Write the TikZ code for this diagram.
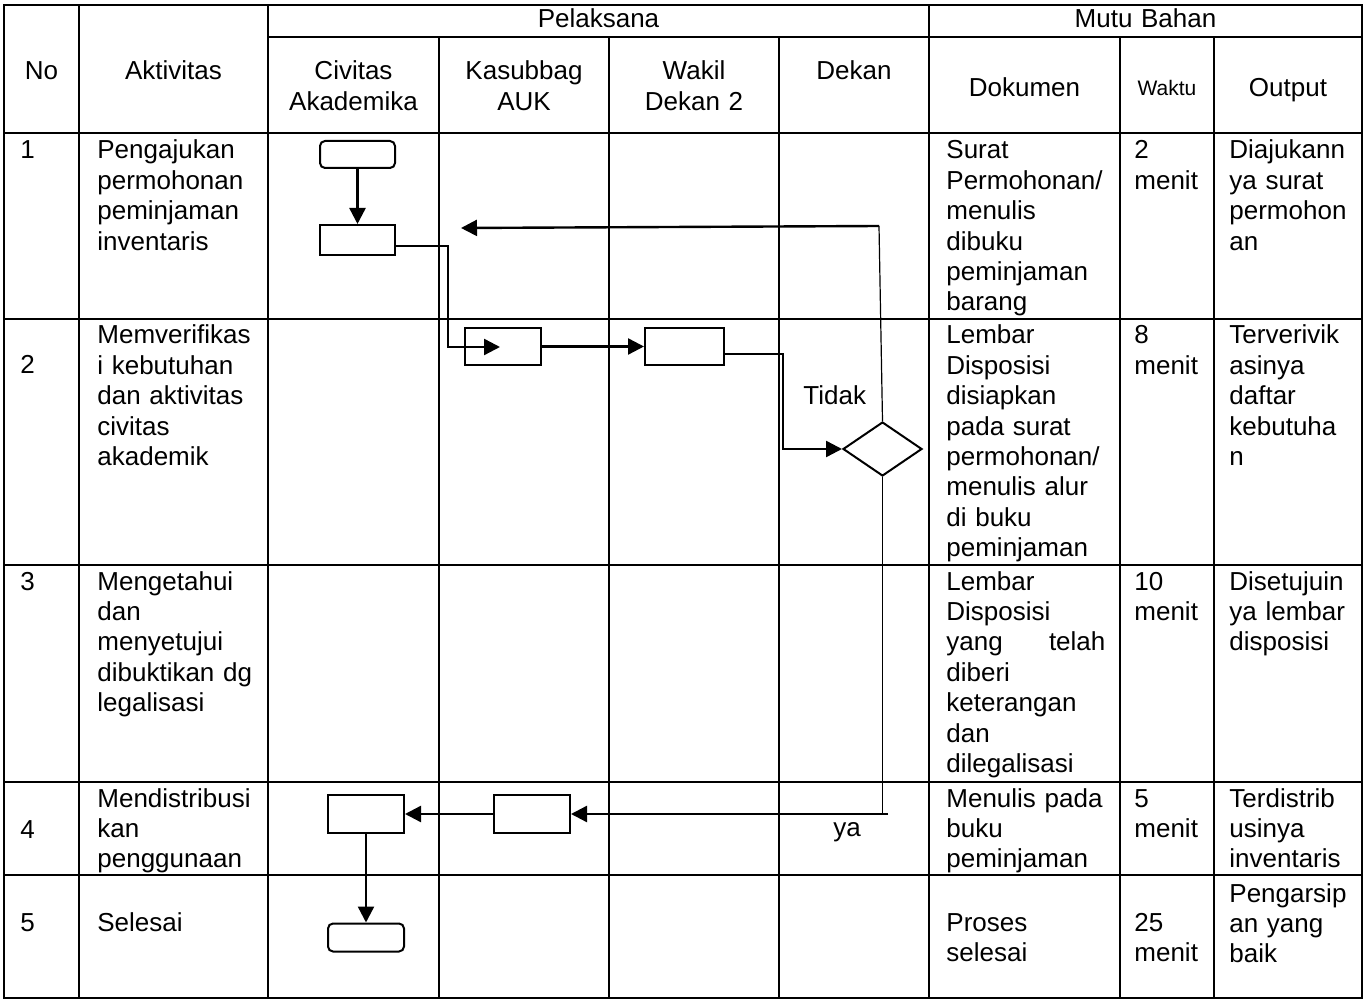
\documentclass[tikz,border=0pt]{standalone}
\usepackage{fontspec}
\setmainfont{Liberation Sans}
\usetikzlibrary{arrows.meta,positioning,shapes.geometric}
\newcommand\cellfont{\fontsize{13}{15.2}\selectfont}
\newcommand\waktufont{\fontsize{10.5}{12}\selectfont}

\begin{document}
\begin{tikzpicture}[x=0.5pt,y=-0.5pt,>={Triangle[length=8pt,width=8pt]},
  rule/.style={line width=1.2pt},
  head/.style={anchor=base,inner sep=0pt,text width=110pt,align=center,font=\cellfont},
  cell/.style={anchor=base west,inner sep=0pt,text width=#1,align=left,font=\cellfont},
  cell/.default=85pt,
  proc/.style={draw,line width=1pt,inner sep=0pt,minimum width=38pt,minimum height=18.5pt},
  term/.style={proc,rounded corners=2.5pt,minimum height=14pt},
  decide/.style={draw,diamond,line width=1pt,inner sep=0pt,minimum width=39.5pt,minimum height=27pt},
  flow/.style={->,line width=1.2pt},
  link/.style={line width=0.6pt}]
\useasboundingbox (0,0) rectangle (1365,999);
% table grid
\draw[rule] (4,5) rectangle (1362,998);
\draw[rule] (268,37) -- (1362,37);
\foreach \y in {133,319,565,782,875} {\draw[rule] (4,\y) -- (1362,\y);}
\foreach \x in {79,268,929} {\draw[rule] (\x,5) -- (\x,998);}
\foreach \x in {439,609,779,1120,1214} {\draw[rule] (\x,37) -- (\x,998);}
% header
\node[head] (hno) at (41.5,80) {No};
\node[head] (hakt) at (173.5,80) {Aktivitas};
\node[head] (hpel) at (598.5,28) {Pelaksana};
\node[head] (hmutu) at (1145.5,28) {Mutu Bahan};
\node[head] (hciv) at (353.5,80) {Civitas\\Akademika};
\node[head] (hkas) at (524,80) {Kasubbag\\AUK};
\node[head] (hwak) at (694,80) {Wakil\\Dekan 2};
\node[head] (hdek) at (854,80) {Dekan};
\node[head] (hdok) at (1024.5,97) {Dokumen};
\node[head,font=\waktufont] (hwkt) at (1167,96) {Waktu};
\node[head] (hout) at (1288,97) {Output};
% row 1
\node[cell=30pt] (no1) at (20,159) {1};
\node[cell] (akt1) at (97,159) {Pengajukan\\permohonan\\peminjaman\\inventaris};
\node[cell] (dok1) at (946,159) {Surat\\Permohonan/\\menulis\\dibuku\\peminjaman\\barang};
\node[cell=40pt] (wkt1) at (1134,159) {2\\menit};
\node[cell=66pt] (out1) at (1229,159) {Diajukann\\ya surat\\permohon\\an};
% row 2
\node[cell=30pt] (no2) at (20,374) {2};
\node[cell] (akt2) at (97,344) {Memverifikas\\i kebutuhan\\dan aktivitas\\civitas\\akademik};
\node[cell] (dok2) at (946,344) {Lembar\\Disposisi\\disiapkan\\pada surat\\permohonan/\\menulis alur\\di buku\\peminjaman};
\node[cell=40pt] (wkt2) at (1134,344) {8\\menit};
\node[cell=66pt] (out2) at (1229,344) {Terverivik\\asinya\\daftar\\kebutuha\\n};
% row 3
\node[cell=30pt] (no3) at (20,590) {3};
\node[cell] (akt3) at (97,590) {Mengetahui\\dan\\menyetujui\\dibuktikan dg\\legalisasi};
\node[cell] (dok3) at (946,590) {Lembar\\Disposisi\\\makebox[79.5pt][s]{yang\hfill telah}\\diberi\\keterangan\\dan\\dilegalisasi};
\node[cell=40pt] (wkt3) at (1134,590) {10\\menit};
\node[cell=66pt] (out3) at (1229,590) {Disetujuin\\ya lembar\\disposisi};
% row 4
\node[cell=30pt] (no4) at (20,838) {4};
\node[cell] (akt4) at (97,807) {Mendistribusi\\kan\\penggunaan};
\node[cell] (dok4) at (946,807) {Menulis pada\\buku\\peminjaman};
\node[cell=40pt] (wkt4) at (1134,807) {5\\menit};
\node[cell=66pt] (out4) at (1229,807) {Terdistrib\\usinya\\inventaris};
% row 5
\node[cell=30pt] (no5) at (20,931) {5};
\node[cell] (akt5) at (97,931) {Selesai};
\node[cell] (dok5) at (946,931) {Proses\\selesai};
\node[cell=40pt] (wkt5) at (1134,931) {25\\menit};
\node[cell=66pt] (out5) at (1229,902) {Pengarsip\\an yang\\baik};
% flow
\node[term,minimum width=37.5pt,minimum height=13.5pt] (s1) at (357.5,154.5) {};
\node[proc,minimum width=37.5pt,minimum height=15pt] (a1) at (357.5,240) {};
\node[proc] (k2) at (503,346.5) {};
\node[proc,minimum width=39.5pt] (w2) at (684.5,346.5) {};
\node[decide] (d2) at (882.5,449) {};
\node[proc,minimum height=19pt] (c4) at (366,814) {};
\node[proc,minimum height=19pt] (k4) at (532,814) {};
\node[term] (e5) at (366,937.5) {};
\coordinate (k2in) at (500,347);
\coordinate (tup) at (879,226);
\coordinate (tend) at (461,228);
\coordinate (ydown) at (888,814);
\draw[flow] (s1) -- (a1);
\draw[flow] ([yshift=-3pt]a1.east) -| (448,347) -- (k2in);
\draw[flow] (k2) -- (w2);
\draw[flow] ([yshift=-3.75pt]w2.east) -- (783,354) |- (d2.west);
\draw[link] (d2.north) -- (tup);
\draw[flow] (tup) -- (tend);
\draw[link] (d2.south) -- (d2.south |- ydown);
\draw[flow] (ydown) -- (k4.east);
\draw[flow] (k4) -- (c4);
\draw[flow] (c4) -- (e5);
\node[anchor=base west,inner sep=0pt,font=\cellfont] (tidak) at (803,405) {Tidak};
\node[anchor=base west,inner sep=0pt,font=\cellfont] (ya) at (833,836) {ya};
\end{tikzpicture}
\end{document}
